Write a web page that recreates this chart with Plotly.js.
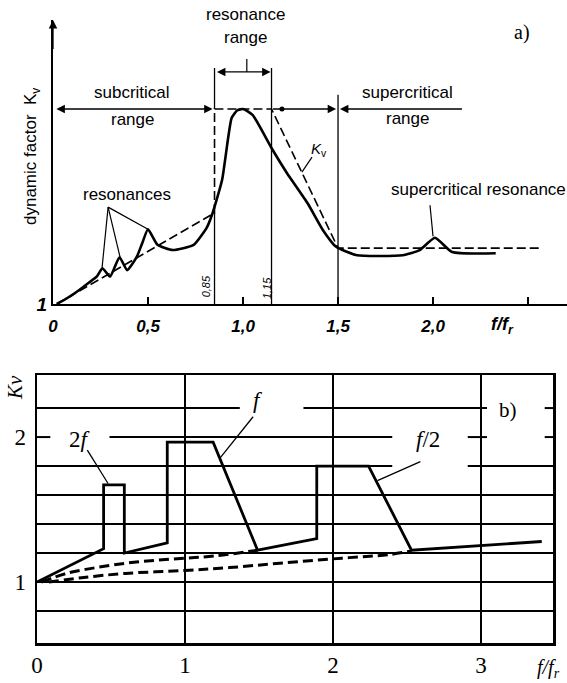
<!DOCTYPE html>
<html>
<head>
<meta charset="utf-8">
<script src="https://cdn.plot.ly/plotly-3.0.1.min.js"></script>
<style>
  html, body { margin: 0; padding: 0; background: #fff; }
  #chart { width: 567px; height: 683px; }
</style>
</head>
<body>
<div id="chart"></div>
<script>
// ---------- (a) dynamic factor Kv over f/fr ----------
const kvX = [0.02, 0.08, 0.14, 0.19, 0.23, 0.26, 0.30, 0.35, 0.39, 0.44, 0.47, 0.50, 0.55, 0.63, 0.74, 0.81, 0.84, 0.89, 0.92, 0.94, 0.97, 1.00, 1.05, 1.15, 1.23, 1.34, 1.42, 1.49, 1.60, 1.84, 1.93, 2.01, 2.10, 2.33];
const kvY = [1.00, 1.10, 1.22, 1.33, 1.42, 1.55, 1.42, 1.72, 1.52, 1.72, 1.94, 2.15, 1.91, 1.83, 1.91, 2.18, 2.40, 2.91, 3.52, 3.86, 3.98, 4.00, 3.91, 3.40, 3.02, 2.55, 2.14, 1.88, 1.75, 1.75, 1.83, 2.02, 1.80, 1.78];

// envelope Kv (dashed)
const envX = [0.02, 0.85, 0.85, 1.15, 1.50, 2.56];
const envY = [1.00, 2.40, 4.00, 4.00, 1.86, 1.86];

// range boundaries at 0.85, 1.15 and 1.5
const bndX = [0.85, 0.85, null, 0.85, 0.85, null, 1.15, 1.15, null, 1.50, 1.50];
const bndY = [1.00, 2.40, null, 4.00, 4.63, null, 1.00, 4.63, null, 1.00, 4.22];

const tickValsA = [0, 0.5, 1.0, 1.5, 2.0, 2.5];
const tickTextA = ['0', '0,5', '1,0', '1,5', '2,0', ' '];

// ---------- (b) Kv for excitation 2f, f, f/2 ----------
const solidX = [0, 0.45, 0.45, 0.59, 0.59, 0.88, 0.88, 1.19, 1.49, 1.89, 1.89, 2.24, 2.53, 3.41];
const solidY = [1.00, 1.23, 1.67, 1.67, 1.20, 1.27, 1.965, 1.965, 1.22, 1.30, 1.80, 1.80, 1.22, 1.28];
const dashUpX = [0.03, 0.20, 0.40, 0.60, 0.80, 1.00, 1.20, 1.49];
const dashUpY = [1.00, 1.06, 1.10, 1.13, 1.15, 1.165, 1.18, 1.22];
const dashLoX = [0.08, 0.30, 0.60, 1.00, 1.30, 1.64, 2.06, 2.38, 2.53];
const dashLoY = [1.00, 1.03, 1.06, 1.08, 1.10, 1.13, 1.165, 1.19, 1.215];

// horizontal rulings of the grid, with the breaks left for the labels
const gridLevels = [0.8, 1.0, 1.2, 1.4, 1.6, 1.8, 2.0, 2.2];
const gridSpans = [
  [[0, 3.486]],
  [[0, 3.486]],
  [[0, 3.486]],
  [[0, 3.486]],
  [[0, 3.486]],
  [[0, 2.40], [2.91, 3.486]],
  [[0, 0.09], [0.49, 2.40], [2.91, 3.04], [3.43, 3.486]],
  [[0, 1.37], [1.80, 3.04], [3.43, 3.486]]
];
const tickValsB = [0, 1, 2, 3];
const tickTextB = ['0', '1', '2', '3'];

const black = '#000';
const sans = 'Liberation Sans, Arial, sans-serif';
const serif = 'Liberation Serif, Times New Roman, serif';

const traces = [];
const thin = (xs, ys, xa, ya, w) => traces.push({
  x: xs, y: ys, xaxis: xa, yaxis: ya, mode: 'lines', type: 'scatter',
  line: { color: black, width: w || 1.3 }, hoverinfo: 'skip'
});

// (a)
thin(bndX, bndY, 'x', 'y', 1.3);
traces.push({ x: envX, y: envY, xaxis: 'x', yaxis: 'y', mode: 'lines', type: 'scatter',
  line: { color: black, width: 1.6, dash: '9px,4px' } });
traces.push({ x: kvX, y: kvY, xaxis: 'x', yaxis: 'y', mode: 'lines', type: 'scatter',
  line: { color: black, width: 2.6, shape: 'spline', smoothing: 0.5 } });
// leaders
thin([0.29, 0.258, null, 0.29, 0.353, null, 0.29, 0.50], [2.49, 1.55, null, 2.49, 1.72, null, 2.49, 2.15], 'x', 'y', 1.2);
thin([1.363, 1.31], [3.26, 3.03], 'x', 'y', 1.2);
thin([1.984, 2.0], [2.52, 2.04], 'x', 'y', 1.2);
thin([1.02, 1.02], [4.57, 4.77], 'x', 'y', 1.2);
traces.push({ x: [1.205], y: [4.0], xaxis: 'x', yaxis: 'y', mode: 'markers', type: 'scatter',
  marker: { color: black, size: 5 } });

// (b)
const shapes = [];
gridLevels.forEach((lv, i) => {
  gridSpans[i].forEach(s => shapes.push({
    type: 'line', xref: 'x2', yref: 'y2', x0: s[0], x1: s[1], y0: lv, y1: lv,
    line: { color: black, width: 2 }
  }));
});
traces.push({ x: dashUpX, y: dashUpY, xaxis: 'x2', yaxis: 'y2', mode: 'lines', type: 'scatter',
  line: { color: black, width: 3, dash: '10px,5px', shape: 'spline' } });
traces.push({ x: dashLoX, y: dashLoY, xaxis: 'x2', yaxis: 'y2', mode: 'lines', type: 'scatter',
  line: { color: black, width: 3, dash: '10px,5px', shape: 'spline' } });
traces.push({ x: solidX, y: solidY, xaxis: 'x2', yaxis: 'y2', mode: 'lines', type: 'scatter',
  line: { color: black, width: 2.8 } });
thin([0.34, 0.48], [1.91, 1.68], 'x2', 'y2', 1.3);
thin([1.46, 1.24], [2.14, 1.86], 'x2', 'y2', 1.3);
thin([2.59, 2.30], [1.83, 1.70], 'x2', 'y2', 1.3);

function txt(x, y, text, size, opts) {
  return Object.assign({ x: x, y: y, xref: 'x', yref: 'y', text: text, showarrow: false,
    font: { family: sans, size: size, color: black }, xanchor: 'center', yanchor: 'middle' }, opts || {});
}
function ptxt(px, py, text, font, opts) {
  return Object.assign({ x: px / 567, y: 1 - py / 683, xref: 'paper', yref: 'paper', text: text,
    showarrow: false, font: font, xanchor: 'center', yanchor: 'middle' }, opts || {});
}
function arrow(x, y, ax, ay, side) {
  return { x: x, y: y, ax: ax, ay: ay, xref: 'x', yref: 'y', axref: 'x', ayref: 'y', text: '',
    showarrow: true, arrowhead: 2, arrowsize: 1.3, arrowwidth: 1.3, arrowcolor: black,
    arrowside: side || 'end', standoff: 0, startstandoff: 0 };
}

const sansF = s => ({ family: sans, size: s, color: black });
const serifF = s => ({ family: serif, size: s, color: black });

const annotations = [
  // (a) arrows
  arrow(0.84, 4.0, 0.01, 4.0, 'end+start'),
  arrow(1.49, 4.0, 1.15, 4.0),
  arrow(1.51, 4.0, 2.16, 4.0),
  arrow(1.145, 4.57, 0.855, 4.57, 'end+start'),
  arrow(0, 5.369, 0, 4.9),
  // (a) text
  txt(0.416, 4.26, 'subcritical', 17),
  txt(0.416, 3.84, 'range', 17),
  ptxt(245, 15, 'resonance', sansF(17)),
  ptxt(245, 38, 'range', sansF(17)),
  txt(1.863, 4.26, 'supercritical', 17),
  txt(1.863, 3.85, 'range', 17),
  txt(0.39, 2.68, 'resonances', 17),
  txt(2.237, 2.76, 'supercritical resonance', 17),
  txt(1.40, 3.38, '<i>K</i><sub>v</sub>', 15),
  txt(2.47, 5.17, 'a)', 20, { font: serifF(20) }),
  txt(0.81, 1.27, '<i>0,85</i>', 11, { textangle: -90 }),
  txt(1.13, 1.24, '<i>1,15</i>', 11, { textangle: -90 }),
  ptxt(32, 157, 'dynamic factor  K<sub>v</sub>', sansF(17), { textangle: -90 }),
  ptxt(502, 326, '<b><i>f/f</i></b><sub><b><i>r</i></b></sub>', sansF(18)),
  // (b) text
  { x: 0.29, y: 1.98, xref: 'x2', yref: 'y2', text: '2<i>f</i>', showarrow: false, font: serifF(23) },
  { x: 1.49, y: 2.255, xref: 'x2', yref: 'y2', text: '<i>f</i>', showarrow: false, font: serifF(23) },
  { x: 2.64, y: 1.98, xref: 'x2', yref: 'y2', text: '<i>f</i>/2', showarrow: false, font: serifF(23) },
  { x: 3.18, y: 2.19, xref: 'x2', yref: 'y2', text: 'b)', showarrow: false, font: serifF(21) },
  ptxt(15, 388, '<i>Kv</i>', serifF(21), { textangle: -90 }),
  ptxt(548, 668, '<i>f/f</i><sub><i>r</i></sub>', serifF(20))
];

const layout = {
  width: 567, height: 683,
  margin: { l: 0, r: 0, t: 0, b: 0 },
  paper_bgcolor: '#fff', plot_bgcolor: 'rgba(0,0,0,0)',
  showlegend: false, hovermode: false,
  xaxis: {
    domain: [53 / 567, 1], range: [0, 2.705], anchor: 'y',
    showline: true, linecolor: black, linewidth: 2, zeroline: false, showgrid: false,
    tickmode: 'array', tickvals: tickValsA, ticktext: tickTextA,
    ticks: 'inside', ticklen: 7, tickwidth: 1.5, tickcolor: black,
    ticklabelstandoff: 6,
    tickfont: { family: sans, size: 17, color: black, weight: 'bold', style: 'italic' }
  },
  yaxis: {
    domain: [1 - 304 / 683, 1 - 20 / 683], range: [1, 5.369], anchor: 'x',
    showline: true, linecolor: black, linewidth: 2, zeroline: false, showgrid: false,
    tickmode: 'array', tickvals: [1], ticktext: ['1'], ticks: '',
    tickfont: { family: sans, size: 19, color: black, weight: 'bold', style: 'italic' }
  },
  xaxis2: {
    domain: [37 / 567, 553 / 567], range: [0, 3.486], anchor: 'y2',
    showline: true, mirror: true, linecolor: black, linewidth: 2.5, zeroline: false,
    showgrid: true, gridcolor: black, gridwidth: 2.5,
    tickmode: 'array', tickvals: tickValsB, ticktext: tickTextB, ticks: '',
    ticklabelstandoff: 0,
    tickfont: { family: serif, size: 23, color: black }
  },
  yaxis2: {
    domain: [1 - 643 / 683, 1 - 375 / 683], range: [0.58, 2.428], anchor: 'x2',
    showline: true, mirror: true, linecolor: black, linewidth: 2.5, zeroline: false, showgrid: false,
    tickmode: 'array', tickvals: [1, 2], ticktext: ['1', '2'], ticks: '',
    ticklabelstandoff: 4,
    tickfont: { family: serif, size: 23, color: black }
  },
  shapes: shapes,
  annotations: annotations
};

Plotly.newPlot('chart', traces, layout, { staticPlot: true, displayModeBar: false });
</script>
</body>
</html>
